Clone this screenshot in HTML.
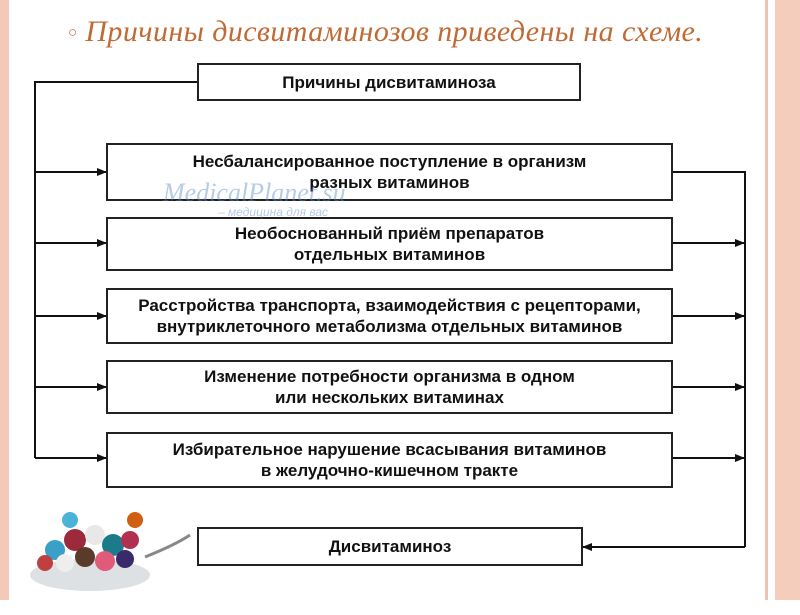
<!DOCTYPE html>
<html><head><meta charset="utf-8"><style>
body{margin:0;width:800px;height:600px;background:#fff;overflow:hidden;position:relative;font-family:"Liberation Sans",sans-serif}
.b{position:absolute;border:2px solid #222;box-sizing:border-box;display:flex;align-items:center;justify-content:center;text-align:center;font-size:17px;font-weight:bold;color:#111;line-height:21px;background:#fff;white-space:nowrap}
</style></head><body>
<div style="position:absolute;left:0;top:0;width:9px;height:600px;background:#f5c9b8"></div>
<div style="position:absolute;left:765px;top:0;width:3px;height:600px;background:#f2c2b0"></div>
<div style="position:absolute;left:775px;top:0;width:25px;height:600px;background:#f5cdbd"></div>
<div style="position:absolute;left:68px;top:15px;font-family:'Liberation Serif',serif;font-style:italic;font-size:30px;color:#c06a35;white-space:nowrap;letter-spacing:0.4px"><span style="font-style:normal;font-size:15px;vertical-align:4px">○</span> Причины дисвитаминозов приведены на схеме.</div>
<svg width="800" height="600" style="position:absolute;left:0;top:0">
<defs><marker id="a" markerWidth="10" markerHeight="10" refX="9" refY="5" orient="auto" markerUnits="userSpaceOnUse"><path d="M0,1 L10,5 L0,9z" fill="#111"/></marker></defs>
<g stroke="#111" stroke-width="2" fill="none">
<path d="M197,82 H35 V458"/>
<path d="M35,172 H106" marker-end="url(#a)"/>
<path d="M35,243 H106" marker-end="url(#a)"/>
<path d="M35,316 H106" marker-end="url(#a)"/>
<path d="M35,387 H106" marker-end="url(#a)"/>
<path d="M35,458 H106" marker-end="url(#a)"/>
<path d="M672,172 H745 V547"/>
<path d="M672,243 H744" marker-end="url(#a)"/>
<path d="M672,316 H744" marker-end="url(#a)"/>
<path d="M672,387 H744" marker-end="url(#a)"/>
<path d="M672,458 H744" marker-end="url(#a)"/>
<path d="M745,547 H583" marker-end="url(#a)"/>
</g></svg>
<div class="b" style="left:197px;top:63px;width:384px;height:38px">Причины дисвитаминоза</div>
<div class="b" style="left:106px;top:143px;width:567px;height:58px">Несбалансированное поступление в организм<br>разных витаминов</div>
<div class="b" style="left:106px;top:217px;width:567px;height:54px">Необоснованный приём препаратов<br>отдельных витаминов</div>
<div class="b" style="left:106px;top:288px;width:567px;height:56px">Расстройства транспорта, взаимодействия с рецепторами,<br>внутриклеточного метаболизма отдельных витаминов</div>
<div class="b" style="left:106px;top:360px;width:567px;height:54px">Изменение потребности организма в одном<br>или нескольких витаминах</div>
<div class="b" style="left:106px;top:432px;width:567px;height:56px">Избирательное нарушение всасывания витаминов<br>в желудочно-кишечном тракте</div>
<div class="b" style="left:197px;top:527px;width:386px;height:39px">Дисвитаминоз</div>
<div style="position:absolute;left:163px;top:178px;font-family:'Liberation Serif',serif;font-style:italic;font-size:26px;color:rgba(90,140,200,0.45)">MedicalPlanet.su</div>
<div style="position:absolute;left:218px;top:205px;font-style:italic;font-size:12px;color:rgba(90,140,200,0.45)">– медицина для вас</div>
<div style="position:absolute;left:9px;top:488px;width:181px;height:112px;background:#fff"></div>
<svg width="200" height="120" style="position:absolute;left:25px;top:495px">
<ellipse cx="65" cy="80" rx="60" ry="16" fill="#dde1e4"/>
<path d="M120,62 Q150,50 165,40" stroke="#888" stroke-width="3" fill="none"/>
<circle cx="30" cy="55" r="10" fill="#3aa0c8"/><circle cx="50" cy="45" r="11" fill="#9b2a3a"/>
<circle cx="70" cy="40" r="10" fill="#e8e8e8"/><circle cx="88" cy="50" r="11" fill="#1a7c8a"/>
<circle cx="105" cy="45" r="9" fill="#b13050"/><circle cx="60" cy="62" r="10" fill="#5a3a2a"/>
<circle cx="40" cy="68" r="9" fill="#eee"/><circle cx="80" cy="66" r="10" fill="#e05a7a"/>
<circle cx="100" cy="64" r="9" fill="#3a2a6a"/><circle cx="110" cy="25" r="8" fill="#d06010"/>
<circle cx="45" cy="25" r="8" fill="#4ab4d8"/><circle cx="20" cy="68" r="8" fill="#c04040"/>
</svg>
</body></html>
